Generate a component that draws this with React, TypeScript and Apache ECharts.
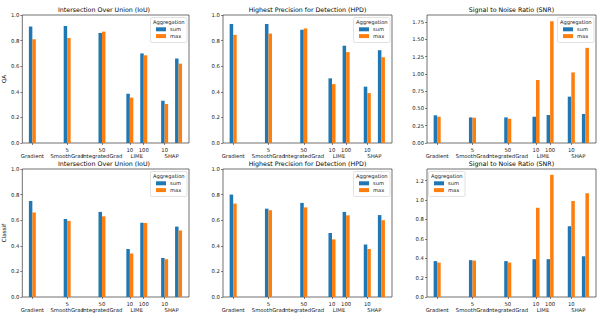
import React, { useEffect, useRef } from "react";
import * as echarts from "echarts";

// x positions of the method groups
const positions = [0, 2.5, 5, 7, 8, 9.5, 10.5];
const tickValues = [0, 2.5, 5, 7, 8, 9.5, 10.5];
const labelValues = [0, 2.5, 5, 7, 7.5, 8, 9.5, 10, 10.5];
const labelTexts = ["\nGradient", "5\nSmoothGrad", "50\nIntegratedGrad", "10", "\nLIME", "100", "10", "\nSHAP", "100"];

const rowNames = ["QA", "Classif"];
const titles = ["Intersection Over Union (IoU)", "Highest Precision for Detection (HPD)", "Signal to Noise Ratio (SNR)"];
const seriesNames = ["sum", "max"];

// QA row
const qaIouSum = [0.91, 0.915, 0.86, 0.385, 0.70, 0.33, 0.66];
const qaIouMax = [0.81, 0.82, 0.87, 0.355, 0.685, 0.305, 0.62];
const qaHpdSum = [0.93, 0.93, 0.885, 0.505, 0.76, 0.44, 0.725];
const qaHpdMax = [0.845, 0.855, 0.895, 0.46, 0.71, 0.39, 0.67];
const qaSnrSum = [0.40, 0.37, 0.37, 0.38, 0.405, 0.67, 0.42];
const qaSnrMax = [0.38, 0.365, 0.35, 0.91, 1.76, 1.02, 1.375];

// Classif row
const clIouSum = [0.75, 0.61, 0.665, 0.375, 0.58, 0.305, 0.55];
const clIouMax = [0.66, 0.595, 0.63, 0.34, 0.578, 0.295, 0.52];
const clHpdSum = [0.80, 0.69, 0.735, 0.50, 0.665, 0.41, 0.64];
const clHpdMax = [0.73, 0.678, 0.70, 0.45, 0.638, 0.375, 0.60];
const clSnrSum = [0.37, 0.38, 0.37, 0.39, 0.39, 0.73, 0.42];
const clSnrMax = [0.355, 0.375, 0.355, 0.92, 1.26, 0.99, 1.07];

const COLORS = ["#1f77b4", "#ff7f0e"];
const FONT = "DejaVu Sans";

const panels = [
  { sum: qaIouSum, max: qaIouMax, yMax: 1, interval: 0.2, dec: 1, legendLeft: false },
  { sum: qaHpdSum, max: qaHpdMax, yMax: 1, interval: 0.2, dec: 1, legendLeft: false },
  { sum: qaSnrSum, max: qaSnrMax, yMax: 1.85, interval: 0.25, dec: 2, legendLeft: false },
  { sum: clIouSum, max: clIouMax, yMax: 1, interval: 0.2, dec: 1, legendLeft: false },
  { sum: clHpdSum, max: clHpdMax, yMax: 1, interval: 0.2, dec: 1, legendLeft: false },
  { sum: clSnrSum, max: clSnrMax, yMax: 1.32, interval: 0.2, dec: 1, legendLeft: true },
];

const colLeft = [19, 223, 427];
const colWidth = [170, 169, 169];
const rowTop = [15, 169];
const rowHeight = 128;
const BAR_W = 0.25;

export default function App() {
  const ref = useRef<HTMLDivElement>(null);
  useEffect(() => {
    if (!ref.current) return;
    const chart = echarts.init(ref.current, undefined, { renderer: "svg" });
    const grid: any[] = [];
    const xAxis: any[] = [];
    const yAxis: any[] = [];
    const series: any[] = [];
    const legend: any[] = [];
    const graphic: any[] = [];
    const title: any[] = [];

    panels.forEach((p, i) => {
      const r = Math.floor(i / 3);
      const c = i % 3;
      const left = colLeft[c];
      const width = colWidth[c];
      const top = rowTop[r];
      grid.push({
        left, top, width, height: rowHeight,
        show: true, borderColor: "#333", borderWidth: 0.7, backgroundColor: "transparent",
        containLabel: false,
      });
      xAxis.push({
        type: "value", gridIndex: i, min: -0.72, max: 11.25,
        position: "bottom",
        splitLine: { show: false },
        axisLine: { show: false, onZero: false },
        axisTick: { show: true, customValues: tickValues, length: 2, lineStyle: { color: "#333", width: 0.6 } },
        axisLabel: {
          customValues: labelValues,
          formatter: (v: number) => {
            const k = labelValues.findIndex((x) => Math.abs(x - v) < 1e-6);
            return k >= 0 ? labelTexts[k] : "";
          },
          fontSize: 5.3, lineHeight: 6.2, margin: 3.5, color: "#222", fontFamily: FONT,
          hideOverlap: false,
        },
      });
      yAxis.push({
        type: "value", gridIndex: i, min: 0, max: p.yMax, interval: p.interval,
        position: "left",
        splitLine: { show: false },
        axisLine: { show: false, onZero: false },
        axisTick: { show: true, length: 2, lineStyle: { color: "#333", width: 0.6 } },
        axisLabel: {
          fontSize: 5.3, margin: 3, color: "#222", fontFamily: FONT,
          showMaxLabel: p.yMax === 1,
          formatter: (v: number) => v.toFixed(p.dec),
        },
        name: c === 0 ? rowNames[r] : "",
        nameLocation: "middle",
        nameRotate: 90,
        nameGap: 11,
        nameTextStyle: { fontSize: 5.6, color: "#111", fontFamily: FONT },
      });
      [p.sum, p.max].forEach((vals, s) => {
        const off = s === 0 ? -BAR_W : 0;
        const color = COLORS[s];
        series.push({
          type: "custom",
          name: seriesNames[s],
          xAxisIndex: i,
          yAxisIndex: i,
          itemStyle: { color },
          encode: { x: 0, y: 1 },
          data: positions.map((x, k) => [x, vals[k]]),
          renderItem: (params: any, api: any) => {
            const x = api.value(0) as number;
            const y = api.value(1) as number;
            const a = api.coord([x + off, y]);
            const b = api.coord([x + off + BAR_W, 0]);
            return {
              type: "rect",
              shape: { x: a[0], y: a[1], width: b[0] - a[0], height: b[1] - a[1] },
              style: { fill: color },
            };
          },
        });
      });
      title.push({
        text: titles[c],
        left: left + width / 2,
        top: top - 5.2,
        textAlign: "center",
        textVerticalAlign: "middle",
        padding: 0,
        textStyle: { fontSize: 6.3, fontFamily: FONT, color: "#000", fontWeight: "normal" },
      });
      const boxW = 36.5;
      const boxH = 25;
      const bx = p.legendLeft ? left + 1.5 : left + width - boxW - 2;
      const by = top + 2.5;
      graphic.push({
        type: "rect",
        shape: { x: bx, y: by, width: boxW, height: boxH, r: 1.5 },
        style: { fill: "rgba(255,255,255,0.85)", stroke: "#cfcfcf", lineWidth: 0.6 },
        z: 10,
      });
      graphic.push({
        type: "text",
        x: bx + boxW / 2,
        y: by + 4.8,
        style: {
          text: "Aggregation", fontSize: 5.2, fontFamily: FONT, fill: "#222",
          textAlign: "center", textVerticalAlign: "middle",
        },
        z: 11,
      });
      legend.push({
        data: seriesNames,
        orient: "vertical",
        left: bx + 5.5,
        top: by + 9.3,
        itemWidth: 10,
        itemHeight: 4,
        itemGap: 1.8,
        icon: "rect",
        padding: 0,
        selectedMode: false,
        z: 12,
        textStyle: { fontSize: 5.2, color: "#222", fontFamily: FONT, padding: [0, 0, 0, -1] },
      });
    });

    chart.setOption({
      animation: false,
      backgroundColor: "#fff",
      textStyle: { fontFamily: FONT },
      title, grid, xAxis, yAxis, series, legend, graphic,
    });
    return () => chart.dispose();
  }, []);
  return (
    <div
      ref={ref}
      style={{ position: "absolute", left: 0, top: 0, width: 598, height: 314 }}
    />
  );
}
